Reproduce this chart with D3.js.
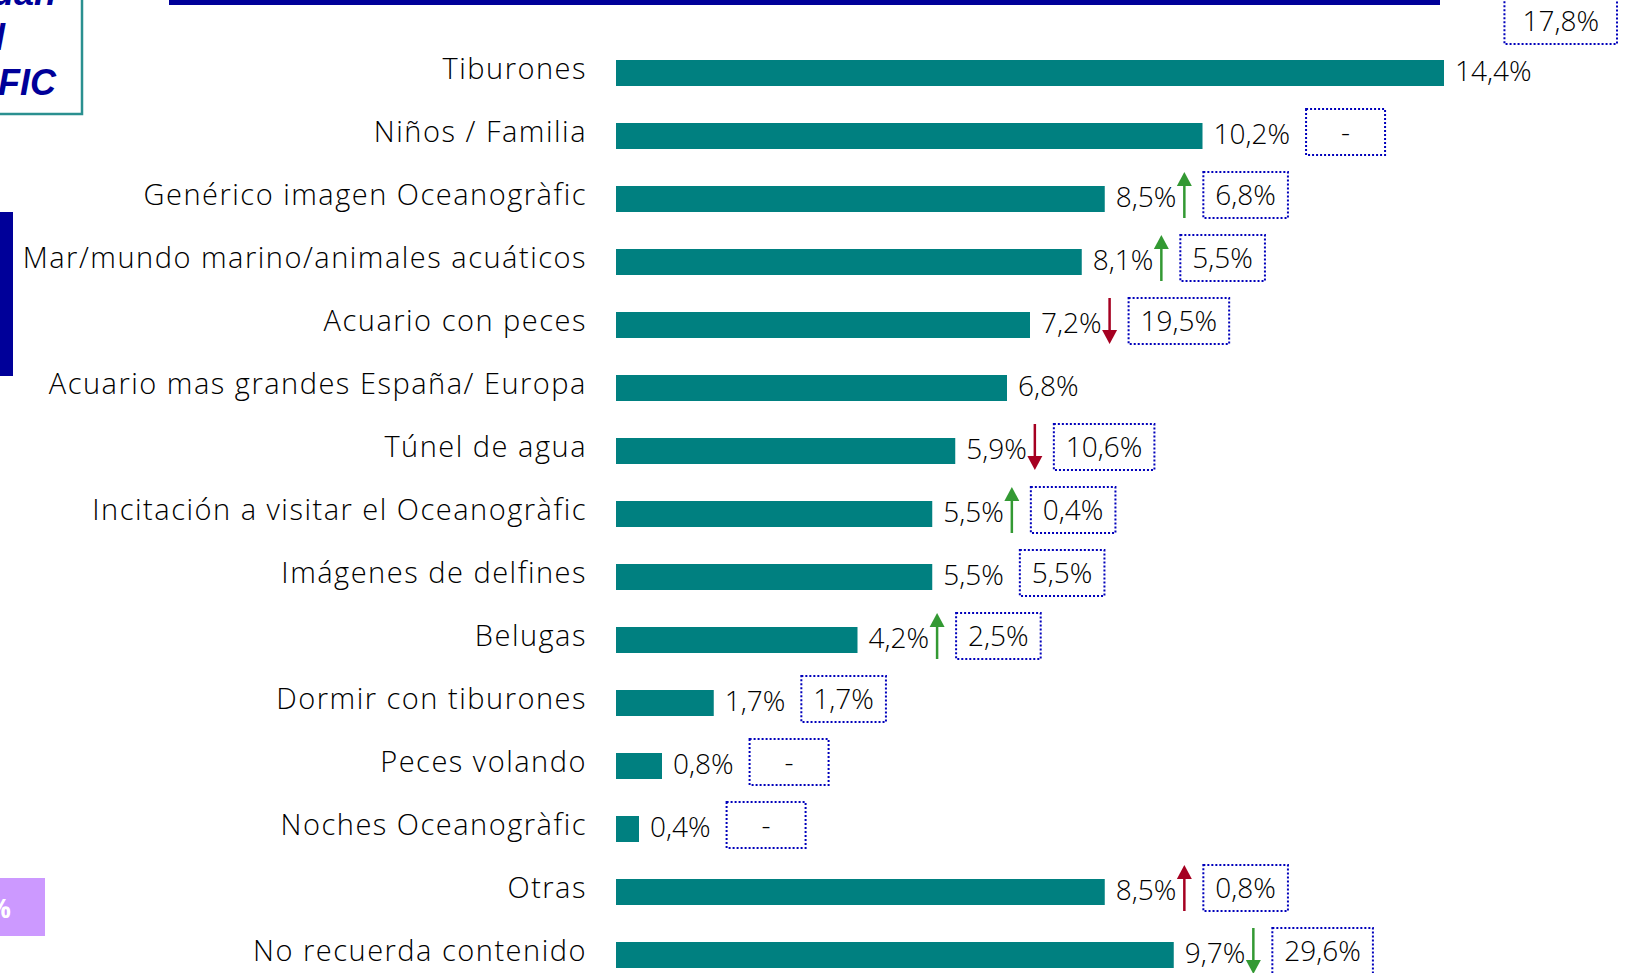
<!DOCTYPE html>
<html>
<head>
<meta charset="utf-8">
<script src="https://cdn.jsdelivr.net/npm/d3@7"></script>
<style>
  html, body { margin: 0; padding: 0; background: #fff; overflow: hidden; }
  svg { display: block; }
  .lbl, .val, .prev { font-family: "Century Gothic", "Open Sans", sans-serif; font-size: 28px; fill: #000; font-weight: 300; }
  .lbl { letter-spacing: 1.5px; font-size: 29px; }
  .corner { font-family: "Liberation Sans", Arial, sans-serif; font-weight: bold; font-style: italic; font-size: 36px; fill: #000099; }
</style>
</head>
<body>
<div id="chart"></div>
<script>
var categories = ["Tiburones", "Niños / Familia", "Genérico imagen Oceanogràfic",
    "Mar/mundo marino/animales acuáticos", "Acuario con peces",
    "Acuario mas grandes España/ Europa", "Túnel de agua",
    "Incitación a visitar el Oceanogràfic", "Imágenes de delfines", "Belugas",
    "Dormir con tiburones", "Peces volando", "Noches Oceanogràfic", "Otras",
    "No recuerda contenido"],
    values = [14.4, 10.2, 8.5, 8.1, 7.2, 6.8, 5.9, 5.5, 5.5, 4.2, 1.7, 0.8, 0.4, 8.5, 9.7],
    // previous wave, "-" = no data, null = no box
    previous = [17.8, "-", 6.8, 5.5, 19.5, null, 10.6, 0.4, 5.5, 2.5, 1.7, "-", "-", 0.8, 29.6],
    trend = [null, null, "up", "up", "down", null, "down", "up", null, "up", null, null, null, "up", "down"],
    trendGood = [null, null, true, true, false, null, false, true, null, true, null, null, null, false, true];

var width = 1626, height = 973,
    labelX = 587,
    barH = 26,
    teal = "#008080", navy = "#000099",
    green = "#339933", red = "#a50021";

var fmt = function(v) { return v.toFixed(1).replace(".", ",") + "%"; };

var x = d3.scaleLinear().domain([0, 15]).range([616, 616 + 15 * 57.5]);
var y = d3.scalePoint().domain(categories).range([73, 955]);

var svg = d3.select("#chart").append("svg")
    .attr("width", width)
    .attr("height", height);

// bits of the slide around the chart
svg.append("rect").attr("x", 169).attr("y", 0).attr("width", 1440 - 169).attr("height", 5).style("fill", navy);
svg.append("rect").attr("x", 0).attr("y", 212).attr("width", 13).attr("height", 164).style("fill", navy);
svg.append("rect").attr("x", -10).attr("y", -10).attr("width", 92).attr("height", 124)
    .style("fill", "none").style("stroke", "#2a9090").style("stroke-width", 2.5);
svg.selectAll(".corner").data([["Cuan", 56, 5], ["el", 5, 50], ["OCEANOGRÀFIC", 56, 95]])
    .enter().append("text")
    .attr("class", "corner")
    .attr("x", function(d) { return d[1]; })
    .attr("y", function(d) { return d[2]; })
    .style("text-anchor", "end")
    .text(function(d) { return d[0]; });
svg.append("rect").attr("x", 0).attr("y", 878).attr("width", 45).attr("height", 58).style("fill", "#cc99ff");
svg.append("text").attr("x", 11).attr("y", 918).style("text-anchor", "end")
    .style("font-family", "Open Sans, sans-serif").style("font-weight", "bold").style("font-size", "26px")
    .style("fill", "#fff").text("%");

var rows = svg.selectAll(".row")
    .data(categories)
    .enter().append("g")
    .attr("class", "row")
    .attr("transform", function(d) { return "translate(0," + y(d) + ")"; });

rows.append("text")
    .attr("class", "lbl")
    .attr("x", labelX)
    .attr("y", -4)
    .attr("dy", "0.35em")
    .style("text-anchor", "end")
    .text(function(d) { return d; });

rows.append("rect")
    .attr("x", x(0))
    .attr("y", -barH / 2)
    .attr("width", function(d, i) { return x(values[i]) - x(0); })
    .attr("height", barH)
    .style("fill", teal);

rows.append("text")
    .attr("class", "val")
    .attr("x", function(d, i) { return x(values[i]) + 11; })
    .attr("y", -2)
    .attr("dy", "0.35em")
    .text(function(d, i) { return fmt(values[i]); });

rows.each(function(d, i) {
    var g = d3.select(this);
    var valEnd = x(values[i]) + 11 + g.select(".val").node().getComputedTextLength();
    var cursor = valEnd;

    if (trend[i]) {
        var col = trendGood[i] ? green : red;
        var ax = valEnd + 8, top = -27, bot = 19;
        var a = g.append("g").attr("class", "arrow");
        if (trend[i] == "up") {
            a.append("line").attr("x1", ax).attr("x2", ax).attr("y1", top + 12).attr("y2", bot)
                .style("stroke", col).style("stroke-width", 2.5);
            a.append("path").attr("d", "M" + (ax - 7.5) + "," + (top + 14) + "L" + ax + "," + top + "L" + (ax + 7.5) + "," + (top + 14) + "Z")
                .style("fill", col);
        } else {
            a.append("line").attr("x1", ax).attr("x2", ax).attr("y1", top).attr("y2", bot - 12)
                .style("stroke", col).style("stroke-width", 2.5);
            a.append("path").attr("d", "M" + (ax - 7.5) + "," + (bot - 14) + "L" + ax + "," + bot + "L" + (ax + 7.5) + "," + (bot - 14) + "Z")
                .style("fill", col);
        }
        cursor = valEnd + 27;
    } else {
        cursor = valEnd + 16;
    }

    if (previous[i] === null) return;

    var txt = typeof previous[i] == "number" ? fmt(previous[i]) : previous[i];
    var box = g.append("g").attr("class", "prevbox");
    var t = box.append("text")
        .attr("class", "prev")
        .attr("y", -4)
        .attr("dy", "0.35em")
        .style("text-anchor", "middle")
        .text(txt);
    var tw = t.node().getComputedTextLength();
    var bw = Math.max(79, tw + 24), bh = 46;
    var bx = cursor, by = -4 - bh / 2;
    // no room on the right: box sits above the row, against the edge
    if (bx + bw > width - 5) {
        bw = Math.max(bw, tw + 36);
        bx = 1617 - bw;
        by = -52 - bh / 2;
    }
    box.insert("rect", "text")
        .attr("x", bx).attr("y", by)
        .attr("width", bw).attr("height", bh)
        .style("fill", "none")
        .style("stroke", "#0000bb")
        .style("stroke-width", 2)
        .style("stroke-dasharray", "2,2");
    t.attr("x", bx + bw / 2).attr("y", by + bh / 2);
});
</script>
</body>
</html>
